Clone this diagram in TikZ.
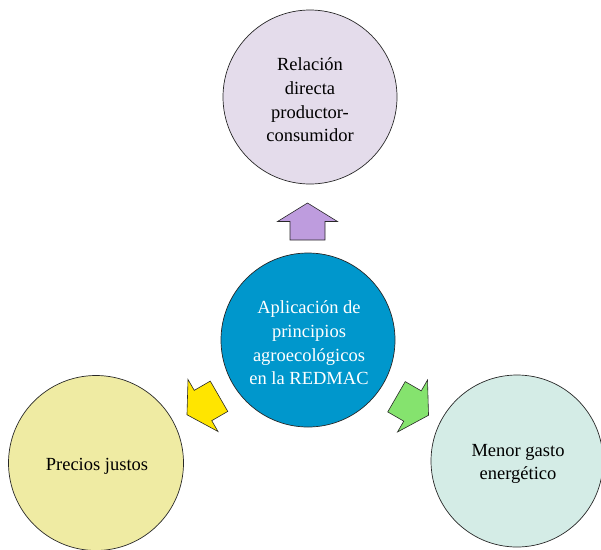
\documentclass[tikz,border=0pt]{standalone}
\usepackage{fontspec}
\setmainfont{Liberation Serif}
\definecolor{topfill}{RGB}{228,220,235}
\definecolor{cenfill}{RGB}{0,151,204}
\definecolor{leftfill}{RGB}{239,235,163}
\definecolor{rightfill}{RGB}{212,236,230}
\definecolor{arrpurple}{RGB}{190,156,222}
\definecolor{arryellow}{RGB}{255,229,0}
\definecolor{arrgreen}{RGB}{133,227,110}
\definecolor{edge}{RGB}{40,40,40}
\tikzset{
  bubble/.style={circle, draw=edge, line width=0.7pt, inner sep=0pt},
  label text/.style={align=center, inner sep=0pt, font=\fontsize{18.5}{23.7}\selectfont},
  blockarrow/.pic={\draw[pic actions] (-18.5,-17.5) -- (0,-17.5) -- (0,-30) -- (18.5,0)
      -- (0,30) -- (0,17.5) -- (-18.5,17.5) -- cycle;},
  arrowstyle/.style={draw=edge, line width=0.6pt, line join=miter}
}
\begin{document}
\begin{tikzpicture}[x=1pt,y=-1pt]
\useasboundingbox (0,0) rectangle (601,549);
\node[bubble, fill=topfill, minimum size=174pt] (top) at (310,97) {};
\node[bubble, fill=cenfill, minimum size=174pt] (cen) at (308,340) {};
\node[bubble, fill=leftfill, minimum size=175pt] (lft) at (96,463) {};
\node[bubble, fill=rightfill, minimum size=172pt] (rgt) at (517,461) {};
\node[label text] (toptext) at (310,100) {Relación\\directa\\productor-\\consumidor};
\node[label text, text=white] (centext) at (309,343) {Aplicación de\\principios\\agroecológicos\\en la REDMAC};
\node[label text] (lfttext) at (97,466) {Precios justos};
\node[label text] (rgttext) at (518,464) {Menor gasto\\energético};
\pic[arrowstyle, fill=arrpurple, rotate=90] (aup) at (307.5,221.5) {blockarrow};
\pic[arrowstyle, fill=arryellow, rotate=210] (alft) at (203,405.5) {blockarrow};
\pic[arrowstyle, fill=arrgreen, rotate=-30] (argt) at (412.5,406) {blockarrow};
\end{tikzpicture}
\end{document}
